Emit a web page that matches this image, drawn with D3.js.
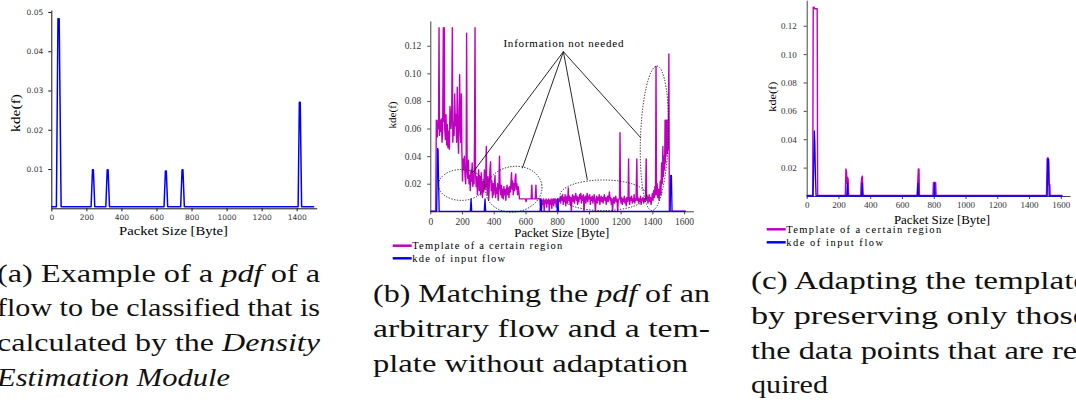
<!DOCTYPE html>
<html>
<head>
<meta charset="utf-8">
<script src="https://cdn.jsdelivr.net/npm/d3@7"></script>
<style>
  body { margin: 0; background: #fff; }
  svg { display: block; }
</style>
</head>
<body>
<script>
// ---- data (packet size in byte, kde value) ----
const xTicksA = [0, 200, 400, 600, 800, 1000, 1200, 1400];
const yTicksA = [0.01, 0.02, 0.03, 0.04, 0.05];
const xTicksBC = [0, 200, 400, 600, 800, 1000, 1200, 1400, 1600];
const yTicksBC = [0.02, 0.04, 0.06, 0.08, 0.10, 0.12];

// (a) kde of the flow to be classified
const flowA = [[0,0.0004],[29,0.0004],[38,0.0483],[45,0.0483],[56,0.0004],
  [227,0.0004],[235,0.0098],[240,0.0098],[248,0.0004],[311,0.0004],[319,0.0098],[324,0.0098],[332,0.0004],
  [643,0.0004],[651,0.0095],[656,0.0095],[664,0.0004],[738,0.0004],[746,0.0098],[751,0.0098],[759,0.0004],
  [1408,0.0004],[1415,0.027],[1420,0.027],[1428,0.0004],[1500,0.0004]];

// (b) template of a certain region (not adapted)
const templateB = [[0,0],[34,0],[38,0.066],[44,0.054],[48,0.066],[52,0.06],[55,0.133],[58,0.055],[62,0.066],
  [66,0.058],[70,0.067],[74,0.05],[78,0.06],[82,0.133],[85,0.065],[88,0.133],[91,0.06],[95,0.052],[99,0.07],
  [103,0.048],[107,0.063],[111,0.046],[116,0.058],[120,0.045],[124,0.076],[128,0.068],[131,0.06],[135,0.072],
  [139,0.133],[142,0.05],[146,0.064],[150,0.055],[154,0.085],[158,0.062],[162,0.07],[166,0.05],[170,0.09],
  [174,0.058],[178,0.042],[182,0.07],[185,0.099],[188,0.062],[192,0.05],[196,0.085],[199,0.045],[203,0.022],
  [207,0.038],[211,0.03],[215,0.04],[219,0.025],[223,0.02],[226,0.033],[229,0.129],[232,0.035],[236,0.024],
  [240,0.037],[244,0.02],[248,0.026],[252,0.015],[256,0.03],[260,0.022],[264,0.035],[268,0.018],[272,0.027],
  [276,0.02],[279,0.055],[282,0.133],[285,0.03],[289,0.018],[293,0.025],[297,0.012],[301,0.022],
  [305,0.03],[309,0.015],[313,0.025],[317,0.012],[321,0.028],[325,0.018],[329,0.01],[333,0.022],[337,0.014],
  [341,0.03],[345,0.016],[349,0.02],[353,0.047],[356,0.02],[360,0.012],[364,0.025],[368,0.008],[372,0.018],
  [376,0.03],[380,0.036],[384,0.015],[388,0.022],[392,0.01],[396,0.02],[400,0.012],[404,0.019],[408,0.026],
  [412,0.01],[416,0.017],[420,0.013],[424,0.02],[428,0.008],[432,0.016],[436,0.04],[440,0.018],[444,0.012],
  [448,0.019],[452,0.01],[456,0.016],[460,0.009],[464,0.018],[468,0.012],[472,0.016],[476,0.008],[480,0.015],
  [484,0.019],[488,0.012],[492,0.017],[496,0.01],[500,0.018],[504,0.014],[508,0.02],[512,0.028],[515,0.016],
  [519,0.022],[523,0.012],[527,0.02],[531,0.015],[535,0.024],[539,0.027],[542,0.016],[546,0.02],[550,0.012],
  [554,0.018],[558,0.015],[562,0.009],[600,0.009],[604,0.007],[608,0.009],[636,0.009],[640,0.019],[643,0.009],
  [662,0.009],[666,0.019],[669,0.009],[690,0.009],[694,0.004],[698,0.009],[702,0.002],[706,0.008],[710,0.005],
  [714,0.009],[718,0],[722,0.008],[726,0.006],[730,0.009],[734,0.003],[738,0.008],[742,0.006],[746,0.009],
  [750,0],[754,0.008],[758,0.005],[762,0.009],[766,0.002],[770,0.008],[774,0.009],[778,0.004],[782,0.009],
  [786,0.006],[790,0.009],[794,0.003],[798,0.008],[802,0.009],[806,0.005],[810,0.009],[814,0.007],[818,0.01],
  [822,0.006],[826,0.011],[830,0.008],[834,0.012],[838,0.005],[842,0.01],[846,0.007],[850,0.012],[854,0.004],
  [858,0.009],[862,0.011],[866,0.006],[870,0.017],[873,0.008],[877,0.011],[881,0.005],[885,0.01],[889,0],
  [893,0.009],[897,0.012],[901,0.007],[905,0.011],[909,0.006],[913,0.01],[917,0.013],[921,0.008],[925,0.011],
  [929,0.005],[933,0.01],[937,0.007],[941,0.012],[945,0.009],[949,0.013],[953,0.006],[957,0.011],[961,0.008],
  [965,0.012],[969,0],[973,0.009],[977,0.011],[981,0.006],[985,0.01],[989,0.013],[993,0.007],[997,0.011],
  [1001,0.009],[1005,0.012],[1009,0.005],[1013,0.01],[1017,0.008],[1021,0.011],[1025,0.006],[1029,0.009],
  [1033,0.012],[1037,0.007],[1041,0],[1045,0.009],[1049,0.011],[1053,0.006],[1057,0.01],[1061,0.008],
  [1065,0.012],[1069,0.005],[1073,0.009],[1077,0.011],[1081,0.007],[1085,0.01],[1089,0.006],[1093,0.009],
  [1097,0.012],[1101,0.008],[1105,0.01],[1109,0.005],[1113,0.009],[1117,0.011],[1121,0.007],[1125,0.01],
  [1129,0.014],[1133,0.008],[1137,0.01],[1141,0.005],[1145,0.009],[1149,0],[1153,0.008],[1157,0.01],
  [1161,0.006],[1165,0.009],[1169,0.011],[1173,0.007],[1177,0.009],[1181,0],[1185,0.008],[1189,0.009],
  [1193,0.009],[1196,0.057],[1199,0.009],[1203,0.006],[1207,0.01],[1211,0.005],[1215,0.009],[1219,0.007],
  [1223,0.011],[1227,0.006],[1231,0.009],[1235,0.004],[1239,0.01],[1243,0.007],[1247,0.009],[1250,0.038],
  [1253,0.009],[1257,0.005],[1261,0.01],[1265,0.008],[1269,0.011],[1273,0.006],[1277,0.009],[1281,0.007],
  [1285,0.012],[1289,0.006],[1293,0.009],[1297,0.008],[1302,0.038],[1305,0.008],[1309,0.01],[1313,0.006],
  [1317,0.009],[1321,0.007],[1325,0.011],[1329,0.005],[1333,0.009],[1337,0.008],[1341,0.01],[1345,0.006],
  [1349,0.009],[1353,0.007],[1357,0.01],[1361,0.038],[1364,0.008],[1368,0.011],[1372,0.006],[1376,0.009],
  [1380,0.012],[1384,0.007],[1388,0.01],[1392,0.005],[1396,0.009],[1400,0.013],[1404,0.008],[1408,0.015],
  [1412,0.01],[1416,0.018],[1420,0.012],[1423,0.105],[1426,0.012],[1430,0.02],[1434,0.01],[1438,0.016],
  [1442,0.008],[1446,0.014],[1450,0.022],[1454,0.012],[1458,0.035],[1462,0.02],[1466,0.047],[1469,0.025],
  [1473,0.04],[1477,0.03],[1480,0.066],[1482,0.035],[1484,0.066],[1486,0.04],[1488,0.066],[1490,0.05],
  [1492,0.066],[1494,0.042],[1496,0.066],[1498,0.045],[1501,0.066],[1504,0.114],[1507,0],[1610,0]];

const flowB = [[0,0],[40,0],[46,0.0455],[49,0.045],[52,0.022],[56,0],[252,0],[257,0.009],[261,0],
  [340,0],[345,0.009],[349,0],[692,0],[697,0.009],[701,0],[799,0],[804,0.009],[808,0],
  [1512,0],[1516,0.026],[1520,0.026],[1524,0],[1610,0]];

// (c) adapted template and the same flow
const templateC = [[0,0.0004],[38,0.0004],[41,0.133],[47,0.133],[49,0.132],[66,0.132],[69,0.0004],
  [243,0.0004],[247,0.019],[251,0.017],[254,0.009],[257,0.013],[261,0.012],[264,0.0004],
  [340,0.0004],[343,0.009],[347,0.013],[351,0.014],[355,0.0004],[695,0.0004],[699,0.009],[703,0.019],
  [707,0.019],[710,0.0004],[795,0.0004],[798,0.0095],[812,0.0095],[815,0.0004],
  [1510,0.0004],[1514,0.026],[1519,0.027],[1523,0.024],[1526,0.008],[1531,0.008],[1533,0.0004],[1610,0.0004]];

const flowC = [[0,0],[40,0],[44,0.02],[48,0.0458],[51,0.038],[55,0.015],[59,0],[252,0],[256,0.009],[260,0],
  [345,0],[349,0.009],[353,0],[697,0],[701,0.009],[705,0],[801,0],[805,0.009],[809,0],
  [1514,0],[1518,0.026],[1523,0.026],[1527,0],[1610,0]];

// annotation in (b): ellipses [cx, cy, rx, ry, angle] in data units, pointer ends
const notNeededEllipses = [[196,0.0191,145,0.0112,0],[527,0.0160,178,0.0165,-10],[1091,0.0116,273,0.0111,0],[1413,0.0529,88,0.0524,2]];
const notNeededTargets = [[267,0.028],[580,0.0312],[990,0.0227],[1327,0.0533]];
const notNeededApex = [839,0.1157];

const legendLabels = ['Template of a certain region', 'kde of input flow'];

const captionA = ['(a) Example of a *pdf* of a', 'flow to be classified that is', 'calculated by the *Density*', '*Estimation Module*'];
const captionB = ['(b) Matching the *pdf* of an', 'arbitrary flow and a tem-', 'plate without adaptation'];
const captionC = ['(c) Adapting the template', 'by preserving only those', 'the data points that are re-', 'quired'];

// ---- drawing ----
const SERIF = "'Liberation Serif', 'Times New Roman', serif";
const SANS = "'DejaVu Sans', sans-serif";
const MAGENTA = '#c000c0';
const BLUE = '#0000ff';

const svg = d3.select(document.body).append('svg')
  .attr('width', 1076).attr('height', 407);

function panel(p) {
  const x = d3.scaleLinear().domain([0, p.xMax]).range(p.xr);
  const y = d3.scaleLinear().domain([0, p.yMax]).range(p.yr);
  const g = svg.append('g');

  const xAxis = g.append('g')
    .attr('transform', `translate(0,${p.yr[0]})`)
    .call(d3.axisBottom(x).tickValues(p.xTicks).tickSize(3).tickPadding(p.xPad).tickSizeOuter(0)
      .tickFormat(d3.format('d')));
  const yAxis = g.append('g')
    .attr('transform', `translate(${p.xr[0]},0)`)
    .call(d3.axisLeft(y).tickValues(p.yTicks).tickSize(3).tickPadding(p.yPad).tickSizeOuter(0)
      .tickFormat(d3.format('.2f')));
  [xAxis, yAxis].forEach(a => {
    a.attr('font-family', null).attr('font-size', null)
      .style('font-family', p.tickFont).style('font-size', p.tickSize + 'px');
    a.selectAll('text').attr('fill', '#333');
    a.selectAll('line, path').attr('stroke', p.axisColor).attr('stroke-width', 1);
  });

  const line = d3.line().x(d => x(d[0])).y(d => y(d[1]));
  p.series.forEach(s => {
    g.append('path').datum(s.data)
      .attr('d', line)
      .attr('fill', 'none')
      .attr('stroke', s.color)
      .attr('stroke-width', s.width)
      .attr('stroke-linejoin', 'round');
  });

  g.append('text')
    .style('font-family', SERIF).style('font-size', p.xl.size + 'px')
    .attr('text-anchor', 'middle')
    .attr('x', (p.xr[0] + p.xr[1]) / 2 + p.xl.dx).attr('y', p.xl.y)
    .attr('textLength', p.xl.len).attr('lengthAdjust', 'spacingAndGlyphs')
    .text('Packet Size [Byte]');
  g.append('text')
    .style('font-family', SERIF).style('font-size', p.yl.size + 'px')
    .attr('text-anchor', 'middle')
    .attr('transform', `translate(${p.yl.x},${p.yl.y}) rotate(-90)`)
    .attr('textLength', p.yl.len).attr('lengthAdjust', 'spacingAndGlyphs')
    .text('kde(f)');

  if (p.legend) {
    [MAGENTA, BLUE].forEach((c, i) => {
      const ly = p.legend.y + i * p.legend.step;
      g.append('line')
        .attr('x1', p.legend.x).attr('x2', p.legend.x + 19)
        .attr('y1', ly).attr('y2', ly)
        .attr('stroke', c).attr('stroke-width', 2.5);
      g.append('text')
        .style('font-family', SERIF).style('font-size', '10.5px')
        .attr('x', p.legend.x + 19.5).attr('y', ly + 3.5)
        .attr('textLength', p.legend.len[i]).attr('lengthAdjust', 'spacing')
        .text(legendLabels[i]);
    });
  }
  return { x, y, g };
}

panel({
  xMax: 1514, xr: [51.3, 316.7], yMax: 0.0505, yr: [208.3, 10],
  xTicks: xTicksA, yTicks: yTicksA, xPad: 3, yPad: 5,
  tickFont: SANS, tickSize: 7.5, axisColor: '#111',
  series: [{ data: flowA, color: BLUE, width: 1.5 }],
  xl: { size: 13, y: 234.5, len: 109, dx: -10.5 },
  yl: { size: 12, x: 19.5, y: 113, len: 38 }
});

const pb = panel({
  xMax: 1658, xr: [430.3, 693.3], yMax: 0.138, yr: [211.3, 20.9],
  xTicks: xTicksBC, yTicks: yTicksBC, xPad: 4, yPad: 6,
  tickFont: SERIF, tickSize: 9.5, axisColor: '#444',
  series: [{ data: templateB, color: MAGENTA, width: 1.4 }, { data: flowB, color: BLUE, width: 1.3 }],
  xl: { size: 12.5, y: 237, len: 95, dx: 0 },
  yl: { size: 10.5, x: 396, y: 115, len: 27 },
  legend: { x: 392.7, y: 245.7, step: 12.6, len: [150, 93] }
});

panel({
  xMax: 1658, xr: [806.7, 1070], yMax: 0.138, yr: [196, 0.2],
  xTicks: xTicksBC, yTicks: yTicksBC, xPad: 3, yPad: 7,
  tickFont: SERIF, tickSize: 9, axisColor: '#444',
  series: [{ data: templateC, color: MAGENTA, width: 1.4 }, { data: flowC, color: BLUE, width: 1.3 }],
  xl: { size: 11.5, y: 224, len: 96, dx: 3.6 },
  yl: { size: 10.5, x: 775.5, y: 96.7, len: 30 },
  legend: { x: 766.7, y: 229.3, step: 13, len: [155, 97] }
});

// "Information not needed" annotation on (b)
const ann = pb.g.append('g');
notNeededEllipses.forEach(e => {
  const cx = pb.x(e[0]), cy = pb.y(e[1]);
  ann.append('ellipse')
    .attr('cx', cx).attr('cy', cy)
    .attr('rx', pb.x(e[2]) - pb.x(0)).attr('ry', pb.y(0) - pb.y(e[3]))
    .attr('transform', `rotate(${e[4]},${cx},${cy})`)
    .attr('fill', 'none').attr('stroke', '#111')
    .attr('stroke-width', 0.9).attr('stroke-dasharray', '1.3,1.5');
});
notNeededTargets.forEach(t => {
  ann.append('line')
    .attr('x1', pb.x(notNeededApex[0])).attr('y1', pb.y(notNeededApex[1]))
    .attr('x2', pb.x(t[0])).attr('y2', pb.y(t[1]))
    .attr('stroke', '#111').attr('stroke-width', 0.9);
});
ann.append('text')
  .style('font-family', SERIF).style('font-size', '11px')
  .attr('text-anchor', 'middle')
  .attr('x', pb.x(notNeededApex[0])).attr('y', 46.7)
  .attr('textLength', 120).attr('lengthAdjust', 'spacing')
  .text('Information not needed');

// captions (justified lines via textLength; last line keeps its own width)
function caption(lines, x0, y0, widths) {
  lines.forEach((l, i) => {
    const t = svg.append('text')
      .style('font-family', SERIF).style('font-size', '26px')
      .attr('x', x0).attr('y', y0 + i * 34.8)
      .attr('textLength', widths[i]).attr('lengthAdjust', 'spacingAndGlyphs')
      .attr('fill', '#111');
    l.split('*').forEach((part, k) => {
      if (part) t.append('tspan').style('font-style', k % 2 ? 'italic' : null).text(part);
    });
  });
}
caption(captionA, -3, 281.5, [323, 323, 323, 233]);
caption(captionB, 373, 302, [337, 337, 315]);
caption(captionC, 751, 289, [337, 337, 337, 77]);
</script>
</body>
</html>
